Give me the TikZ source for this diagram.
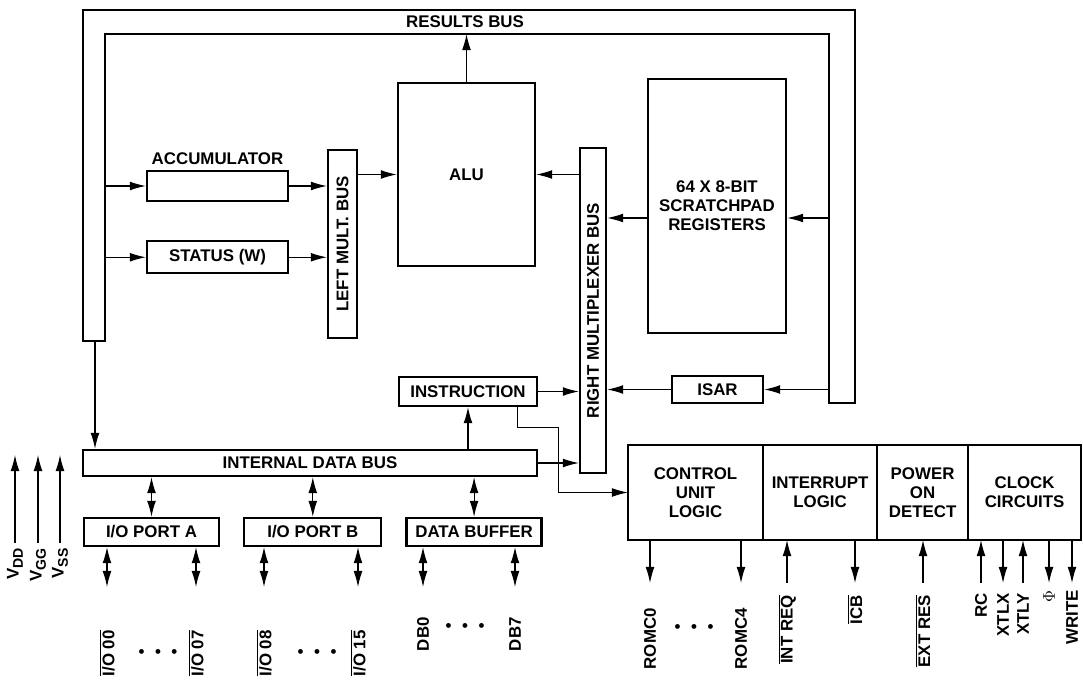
\documentclass[tikz,border=0pt]{standalone}
\usepackage{fontspec}
\setmainfont{Liberation Sans}
\usetikzlibrary{arrows.meta,calc,positioning}
\newcommand{\ovl}[1]{$\overline{\mbox{#1}}$}
\newcommand{\supplyname}[1]{V\raisebox{-3pt}{\fontsize{10pt}{10pt}\selectfont #1}}

\begin{document}
\begin{tikzpicture}[
    x=0.025cm, y=-0.025cm,
    font=\fontsize{12pt}{13.5pt}\selectfont\bfseries,
    box/.style={draw, line width=1.6pt, align=center, inner sep=2pt},
    seg/.style={box, outer sep=0pt, minimum width=#1, minimum height=2.375cm},
    arrow/.style={-{Latex[length=4mm,width=2.2mm]}, line width=0.8pt},
    biarrow/.style={{Latex[length=4mm,width=2.2mm]}-{Latex[length=4mm,width=2.2mm]}, line width=0.8pt},
    pinlabel/.style={rotate=90, inner sep=0pt, anchor=east},
    dotrow/.style={inner sep=0pt}
  ]
    \useasboundingbox (0,0) rectangle (1083,682);

    % results bus
    \draw[line width=1.6pt] (83,341) -- (83,10) -- (855,10) -- (855,403) -- (829,403)
      -- (829,34) -- (105,34) -- (105,341) -- cycle;
    \node (results) at (465,22) {RESULTS BUS};
    \coordinate (rbleft) at (105,0);
    \coordinate (rbright) at (829,0);
    \coordinate (rbtop) at (0,34);
    \coordinate (rbfoot) at (95,341);
    \coordinate (supply) at (0,455);

    \node[box, minimum width=3.425cm, minimum height=4.575cm] (alu) at (466.5,174.5) {ALU};
    \node[box, minimum width=3.525cm, minimum height=0.75cm, label=above:ACCUMULATOR] (acc) at (217.5,186) {};
    \node[box, minimum width=3.525cm, minimum height=0.8cm, below=9.5mm of acc] (status) {STATUS (W)};
    \node[box, minimum width=0.725cm, minimum height=4.7cm,
      label={[rotate=90]center:LEFT MULT.\ BUS}] (lmb) at (342.5,244) {};
    \node[box, minimum width=0.65cm, minimum height=8.125cm,
      label={[rotate=90]center:RIGHT MULTIPLEXER BUS}] (rmb) at (593,310.5) {};
    \node[box, minimum width=3.45cm, minimum height=6.35cm] (pad) at (717,206) {64 X 8-BIT\\SCRATCHPAD\\REGISTERS};
    \node[box, minimum width=2.275cm, minimum height=0.675cm] (isar) at (717.5,389.5) {ISAR};
    \node[box, minimum width=3.45cm, minimum height=0.725cm] (ins) at (468,391.5) {INSTRUCTION};
    \node[box, minimum width=11.35cm, minimum height=0.65cm] (idb) at (310,463) {INTERNAL DATA BUS};
    \node[box, minimum width=3.375cm, minimum height=0.7cm] (porta) at (151.5,532) {I/O PORT A};
    \node[box, minimum width=3.425cm, minimum height=0.7cm, right=5.75mm of porta] (portb) {I/O PORT B};
    \node[box, minimum width=3.375cm, minimum height=0.7cm, right=5.75mm of portb] (dbuf) {DATA BUFFER};

    % control section
    \node[seg=3.375cm] (cu) at (695.5,492.5) {CONTROL\\UNIT\\LOGIC};
    \node[seg=2.85cm, right=0pt of cu] (intl) {INTERRUPT\\LOGIC};
    \node[seg=2.275cm, right=0pt of intl] (pwr) {POWER\\ON\\DETECT};
    \node[seg=2.825cm, right=0pt of pwr] (clk) {CLOCK\\CIRCUITS};

    % pins
    \node[pinlabel] (vdd) at (15,548) {\supplyname{DD}};
    \node[pinlabel] (vgg) at (38,548) {\supplyname{GG}};
    \node[pinlabel] (vss) at (60,548) {\supplyname{SS}};
    \node[pinlabel] (io00) at (107,630) {\ovl{I/O 00}};
    \node[pinlabel] (io07) at (196,630) {\ovl{I/O 07}};
    \node[pinlabel] (io08) at (264,630) {\ovl{I/O 08}};
    \node[pinlabel] (io15) at (358,630) {\ovl{I/O 15}};
    \node[pinlabel] (db0) at (423,617) {DB0};
    \node[pinlabel] (db7) at (515,617) {DB7};
    \node[pinlabel] (romc0) at (650,608) {ROMC0};
    \node[pinlabel] (romc4) at (741,608) {ROMC4};
    \node[pinlabel] (intreq) at (787,595) {\ovl{INT REQ}};
    \node[pinlabel] (icb) at (855,595) {\ovl{ICB}};
    \node[pinlabel] (extres) at (923,595) {\ovl{EXT RES}};
    \node[pinlabel] (rc) at (981,593) {RC};
    \node[pinlabel] (xtlx) at (1003,593) {XTLX};
    \node[pinlabel] (xtly) at (1023,593) {XTLY};
    \node[pinlabel] (phi) at (1049,590) {$\Phi$};
    \node[pinlabel] (write) at (1072,590) {WRITE};
    \node[dotrow] (iodotsa) at (158,654) {\textbullet\hspace{7.5pt}\textbullet\hspace{7.5pt}\textbullet};
    \node[dotrow] (iodotsb) at (317,654) {\textbullet\hspace{7.5pt}\textbullet\hspace{7.5pt}\textbullet};
    \node[dotrow] (dbdots) at (465,628) {\textbullet\hspace{7.5pt}\textbullet\hspace{7.5pt}\textbullet};
    \node[dotrow] (romcdots) at (694,629) {\textbullet\hspace{7.5pt}\textbullet\hspace{7.5pt}\textbullet};

    \draw[arrow] (rbleft |- acc.west) -- (acc.west);
    \draw[arrow] (rbleft |- status.west) -- (status.west);
    \draw[arrow] (acc.east) -- (acc.east -| lmb.west);
    \draw[arrow] (status.east) -- (status.east -| lmb.west);
    \draw[arrow] (lmb.east |- alu.west) -- (alu.west);
    \draw[arrow] (alu.north) -- (alu.north |- rbtop);
    \draw[arrow] (rmb.west |- alu.east) -- (alu.east);
    \draw[arrow] ([yshift=-3mm]pad.west) coordinate (padrow) -- (padrow -| rmb.east);
    \draw[arrow] (rbright |- padrow) -- (padrow -| pad.east);
    \draw[arrow] (rbright |- isar.east) -- (isar.east);
    \draw[arrow] (isar.west) -- (isar.west -| rmb.east);
    \draw[arrow] (ins.east) -- (ins.east -| rmb.west);
    \draw[arrow] (idb.east) -- (idb.east -| rmb.west);
    \draw[arrow] (idb.north -| ins) -- (ins.south);
    \draw[arrow] (rbfoot) -- (rbfoot |- idb.north);
    \draw[arrow] ([xshift=-5.25mm]ins.south east) |- ++(41,20) |- (cu.west);
    \draw[biarrow] (idb.south -| porta) -- (porta.north);
    \draw[biarrow] (idb.south -| portb) -- (portb.north);
    \draw[biarrow] (idb.south -| dbuf) -- (dbuf.north);

    \draw[arrow, shorten <=1.25mm] (vdd.east) -- (vdd.east |- supply);
    \draw[arrow, shorten <=1.25mm] (vgg.east) -- (vgg.east |- supply);
    \draw[arrow, shorten <=1.25mm] (vss.east) -- (vss.east |- supply);
    \draw[biarrow, shorten >=10.75mm] (porta.south -| io00) -- (io00.east);
    \draw[biarrow, shorten >=10.75mm] (porta.south -| io07) -- (io07.east);
    \draw[biarrow, shorten >=10.75mm] (portb.south -| io08) -- (io08.east);
    \draw[biarrow, shorten >=10.75mm] (portb.south -| io15) -- (io15.east);
    \draw[biarrow, shorten >=7.5mm] (dbuf.south -| db0) -- (db0.east);
    \draw[biarrow, shorten >=7.5mm] (dbuf.south -| db7) -- (db7.east);
    \draw[arrow, shorten >=6.25mm] (cu.south -| romc0) -- (romc0.east);
    \draw[arrow, shorten >=6.25mm] (cu.south -| romc4) -- (romc4.east);
    \draw[arrow, shorten <=3mm] (intreq.east) -- (intl.south -| intreq);
    \draw[arrow, shorten >=3mm] (intl.south -| icb) -- (icb.east);
    \draw[arrow, shorten <=3mm] (extres.east) -- (pwr.south -| extres);
    \draw[arrow, shorten <=2.5mm] (rc.east) -- (clk.south -| rc);
    \draw[arrow, shorten >=2.5mm] (clk.south -| xtlx) -- (xtlx.east);
    \draw[arrow, shorten <=2.5mm] (xtly.east) -- (clk.south -| xtly);
    \draw[arrow, shorten >=1.75mm] (clk.south -| phi) -- (phi.east);
    \draw[arrow, shorten >=1.75mm] (clk.south -| write) -- (write.east);
  \end{tikzpicture}
\end{document}
